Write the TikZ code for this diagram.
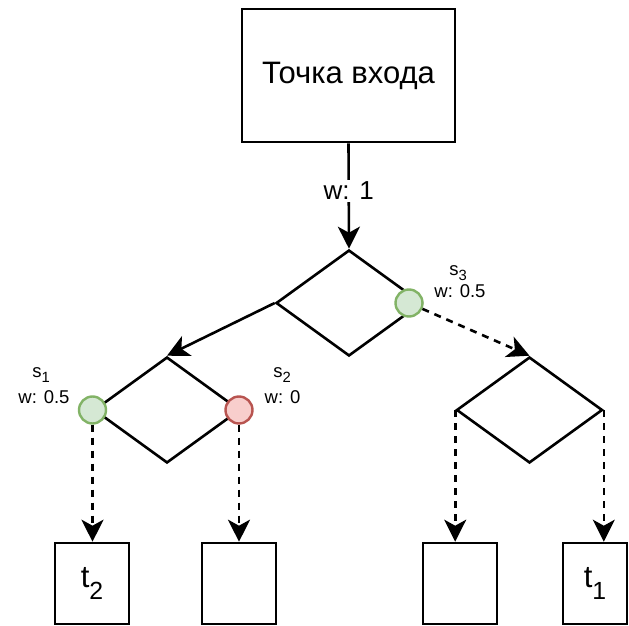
\documentclass[tikz,border=0pt]{standalone}
\usepackage{fontspec}
\usepackage{graphicx}
\setmainfont{Liberation Sans}
\usetikzlibrary{shapes.geometric,arrows.meta,calc}

\definecolor{okfill}{HTML}{D5E8D4}
\definecolor{okline}{HTML}{82B366}
\definecolor{badfill}{HTML}{F8CECC}
\definecolor{badline}{HTML}{B85450}

% lowered, shrunken index
\newcommand{\idx}[2][0.3em]{\raisebox{-#1}{\scalebox{0.8}{#2}}}

\begin{document}
\begin{tikzpicture}[x=1pt,y=-1pt,line width=2.6pt,
  box/.style={draw,rectangle,inner sep=0pt,line width=2.6pt},
  choice/.style={draw,diamond,inner sep=0pt,minimum width=146pt,minimum height=106pt,line width=2.6pt},
  port/.style={draw,circle,inner sep=0pt,minimum size=27pt,line width=2.4pt},
  okport/.style={port,draw=okline,fill=okfill},
  badport/.style={port,draw=badline,fill=badfill},
  arr/.style={-{Stealth[length=22pt,width=22pt,inset=6pt]},line width=2.6pt},
  dasharr/.style={arr,dash pattern=on 7pt off 6pt},
  small/.style={font=\fontsize{18.5}{22}\selectfont,inner sep=0pt,anchor=base},
]
\useasboundingbox (0,0) rectangle (629,626);

% entry box
\node[box,minimum width=213pt,minimum height=133pt,font=\fontsize{31}{36}\selectfont]
  (entry) at (348.5,75.5) {Точка входа};

% decision diamonds
\node[choice] (d1) at (349,303) {};
\node[choice] (d2) at (167,410) {};
\node[choice] (d3) at (529.5,410) {};

% leaf boxes
\node[box,minimum width=74pt,minimum height=81pt,font=\fontsize{31}{36}\selectfont]
  (t2) at (92,583.5) {t\idx[0.4em]{2}};
\node[box,minimum width=74pt,minimum height=81pt] (b2) at (239,583.5) {};
\node[box,minimum width=74pt,minimum height=81pt] (b3) at (460,583.5) {};
\node[box,minimum width=64pt,minimum height=81pt,font=\fontsize{31}{36}\selectfont]
  (t1) at (595,583.5) {t\idx[0.4em]{1}};

% connectors
\draw[arr] (entry.south) -- node[pos=0.45,fill=white,inner sep=2pt,font=\fontsize{26}{30}\selectfont] {w: 1} (d1.north);
\draw[arr] (d1.west) -- (d2.north);

% ports on the diamonds
\node[okport] (s3) at (409,303) {};
\node[okport] (s1) at (92.5,410) {};
\node[badport] (s2) at (239,410) {};

\draw[dasharr] (s3) -- (d3.north);
\draw[dasharr] (s1) -- (s1 |- t2.north);
\draw[dasharr] (s2) -- (s2 |- b2.north);
\draw[dasharr] (d3.west) -- (d3.west |- b3.north);
\draw[dasharr] (d3.east) -- (d3.east |- t1.north);

% port labels
\node[small] (s1n) at (41,377) {s\idx{1}};
\node[small] (s1w) at (44,403) {w: 0.5};
\node[small] (s2n) at (282,377) {s\idx{2}};
\node[small] (s2w) at (282.5,403) {w: 0};
\node[small] (s3n) at (458,275) {s\idx{3}};
\node[small] (s3w) at (460,297) {w: 0.5};
\end{tikzpicture}
\end{document}
